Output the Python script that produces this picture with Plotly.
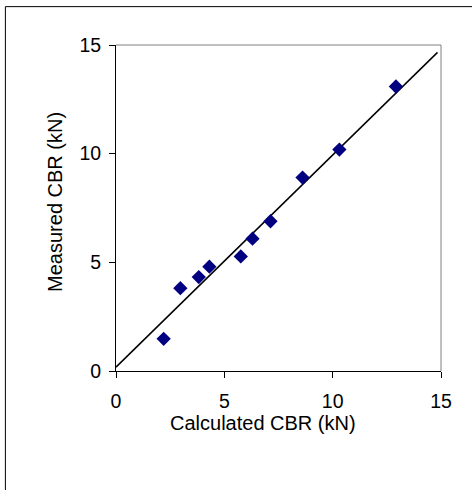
import plotly.graph_objects as go

# Data
calculated = [2.20, 2.97, 3.82, 4.31, 5.76, 6.30, 7.13, 8.61, 10.31, 12.92]
measured = [1.48, 3.81, 4.32, 4.80, 5.27, 6.09, 6.89, 8.90, 10.19, 13.09]
fit_x = [0.0, 14.84]
fit_y = [0.18, 14.66]
tick_vals = [0, 5, 10, 15]
tick_text = ["0", "5", "10", "15"]

FONT = "Liberation Sans, Arial, sans-serif"
W, H = 472, 490
ML, MR, MT, MB = 116, 31.3, 45.3, 119.3

fig = go.Figure()
fig.add_trace(go.Scatter(x=fit_x, y=fit_y, mode="lines",
                         line=dict(color="black", width=1.5),
                         showlegend=False, hoverinfo="skip"))
fig.add_trace(go.Scatter(x=calculated, y=measured, mode="markers",
                         marker=dict(symbol="diamond", size=11, color="#000080",
                                     line=dict(width=0)),
                         showlegend=False))

axis_common = dict(range=[0, 15], tickvals=tick_vals, ticktext=tick_text,
                   showgrid=False, zeroline=False, showline=True,
                   linecolor="black", linewidth=1, ticks="outside",
                   ticklen=6, tickcolor="black", tickwidth=1,
                   tickfont=dict(family=FONT, size=19.5, color="black"))

fig.update_xaxes(**axis_common, ticklabelstandoff=7)
fig.update_yaxes(**axis_common, ticklabelstandoff=4)

pw = W - ML - MR
ph = H - MT - MB
def px_x(p):
    return (p - ML) / pw
def px_y(p):
    return 1 - (p - MT) / ph

shapes = [
    # grey plot-area border (top and right)
    dict(type="line", xref="paper", yref="paper", x0=0, x1=1, y0=1, y1=1,
         line=dict(color="#808080", width=1)),
    dict(type="line", xref="paper", yref="paper", x0=1, x1=1, y0=0, y1=1,
         line=dict(color="#808080", width=1)),
    # outer chart border (only left and top edges are inside the picture)
    dict(type="line", xref="paper", yref="paper",
         x0=px_x(5.5), x1=px_x(5.5), y0=px_y(7), y1=px_y(495),
         line=dict(color="black", width=1)),
    dict(type="line", xref="paper", yref="paper",
         x0=px_x(5.5), x1=px_x(477), y0=px_y(7), y1=px_y(7),
         line=dict(color="black", width=1)),
]

annotations = [
    dict(text="Calculated CBR (kN)", xref="paper", yref="paper",
         x=px_x(263), y=px_y(422.5), showarrow=False, xanchor="center", yanchor="middle",
         font=dict(family=FONT, size=20, color="black")),
    dict(text="Measured CBR (kN)", xref="paper", yref="paper",
         x=px_x(55.5), y=px_y(201.5), showarrow=False, xanchor="center", yanchor="middle",
         textangle=-90, font=dict(family=FONT, size=20, color="black")),
]

fig.update_layout(width=W, height=H,
                  margin=dict(l=ML, r=MR, t=MT, b=MB),
                  paper_bgcolor="white", plot_bgcolor="white",
                  shapes=shapes, annotations=annotations,
                  font=dict(family=FONT, color="black"))

fig.write_html("out.html")
